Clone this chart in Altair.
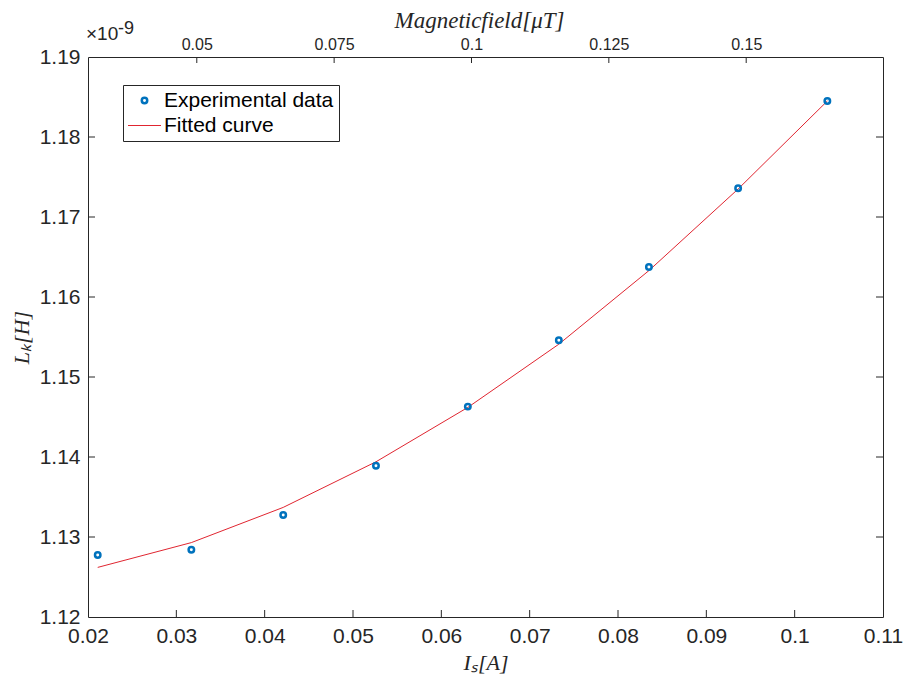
import altair as alt
import pandas as pd

# ---- data ----
current = [0.0211, 0.0317, 0.0421, 0.0526, 0.0630, 0.0733, 0.0835, 0.0936, 0.1037]
inductance = [1.12775, 1.1284, 1.13275, 1.1389, 1.1463, 1.1546, 1.16375, 1.1736, 1.1845]
fitted = [1.1262, 1.1293, 1.1337, 1.1394, 1.1462, 1.1541, 1.1633, 1.1735, 1.1845]
series = ["Experimental data", "Fitted curve"]
x_ticks = [0.02, 0.03, 0.04, 0.05, 0.06, 0.07, 0.08, 0.09, 0.10, 0.11]
x_inner_ticks = [0.03, 0.04, 0.05, 0.06, 0.07, 0.08, 0.09, 0.10]
y_ticks = [1.12, 1.13, 1.14, 1.15, 1.16, 1.17, 1.18, 1.19]
y_inner_ticks = [1.13, 1.14, 1.15, 1.16, 1.17, 1.18]
field_ticks = [0.05, 0.075, 0.1, 0.125, 0.15]
field_domain = [0.0302, 0.1749]
x_domain = [0.02, 0.11]
y_domain = [1.12, 1.19]

BLUE = "#0072BD"
RED = "#E02530"
AX = "#262626"
SANS = "Liberation Sans"
SERIF = "Liberation Serif"

W, H = 795, 560

exp_df = pd.DataFrame({"I": current, "L": inductance, "series": series[0]})
fit_df = pd.DataFrame({"I": current, "L": fitted, "series": series[1]})
xt_df = pd.DataFrame({"I": x_inner_ticks})
yt_df = pd.DataFrame({"L": y_inner_ticks})
bt_df = pd.DataFrame({"B": field_ticks})

x_axis = alt.Axis(values=x_ticks, format=".2~f", ticks=False, domain=False, grid=False,
                  labelFontSize=21, labelFont=SANS, labelColor=AX, labelPadding=8,
                  labelFlush=False, labelOverlap=False,
                  title="Iₛ[A]", titleFont=SERIF, titleFontStyle="italic",
                  titleFontWeight="normal", titleFontSize=22, titleColor=AX, titlePadding=6)
y_axis = alt.Axis(values=y_ticks, format=".2f", ticks=False, domain=False, grid=False,
                  labelFontSize=21, labelFont=SANS, labelColor=AX, labelPadding=8,
                  labelFlush=False, labelOverlap=False,
                  title="Lₖ[H]", titleFont=SERIF, titleFontStyle="italic",
                  titleFontWeight="normal", titleFontSize=22, titleColor=AX, titlePadding=6)
top_axis = alt.Axis(orient="top", values=field_ticks, format=".3~f", ticks=False, domain=False,
                    grid=False, labelFontSize=16, labelFont=SANS, labelColor=AX, labelPadding=5,
                    labelFlush=False, labelOverlap=False,
                    title="Magneticfield[μT]", titleFont=SERIF, titleFontStyle="italic",
                    titleFontWeight="normal", titleFontSize=23, titleColor=AX, titlePadding=4,
                    titleX=391)

xs = alt.Scale(domain=x_domain, nice=False, zero=False)
ys = alt.Scale(domain=y_domain, nice=False, zero=False)

x_enc = alt.X("I:Q", scale=xs, axis=x_axis)
y_enc = alt.Y("L:Q", scale=ys, axis=y_axis)

circle_path = "M-0.165,0A0.165,0.165,0,1,1,0.165,0A0.165,0.165,0,1,1,-0.165,0Z"
line_path = "M-1,0H1"

legend = alt.Legend(title=None, orient="none", legendX=35, legendY=28,
                    strokeColor=AX, fillColor="white", padding=5, cornerRadius=0,
                    labelFont=SANS, labelFontSize=21, labelColor="#000000", labelLimit=400,
                    symbolSize=1089, rowPadding=3, labelOffset=9, symbolOffset=6,
                    symbolStrokeWidth=alt.ExprRef("datum.value === 'Fitted curve' ? 1 : 2.5"))

color_enc = alt.Color("series:N", scale=alt.Scale(domain=series, range=[BLUE, RED]), legend=legend)
shape_enc = alt.Shape("series:N", scale=alt.Scale(domain=series, range=[circle_path, line_path]),
                      legend=legend)

line = alt.Chart(fit_df).mark_line(strokeWidth=1).encode(x=x_enc, y=y_enc, color=color_enc)
points = alt.Chart(exp_df).mark_point(filled=False, strokeWidth=2.5, size=1089, opacity=1).encode(
    x=x_enc, y=y_enc, color=color_enc, shape=shape_enc)

bottom_ticks = alt.Chart(xt_df).mark_rule(color=AX, strokeWidth=1).encode(
    x=x_enc, y=alt.value(H), y2=alt.value(H - 7))
left_ticks = alt.Chart(yt_df).mark_rule(color=AX, strokeWidth=1).encode(
    y=y_enc, x=alt.value(0), x2=alt.value(7))
right_ticks = alt.Chart(yt_df).mark_rule(color=AX, strokeWidth=1).encode(
    y=y_enc, x=alt.value(W), x2=alt.value(W - 7))

exp_a = alt.Chart(alt.Data(values=[{}])).mark_text(
    font=SANS, fontSize=19, color=AX, align="left", baseline="alphabetic").encode(
    x=alt.value(-2), y=alt.value(-17), text=alt.value("×10"))
exp_b = alt.Chart(alt.Data(values=[{}])).mark_text(
    font=SANS, fontSize=18, color=AX, align="left", baseline="alphabetic").encode(
    x=alt.value(30), y=alt.value(-23), text=alt.value("-9"))

bottom_group = alt.layer(line, points, bottom_ticks, left_ticks, right_ticks, exp_a, exp_b)

top_ticks = alt.Chart(bt_df).mark_rule(color=AX, strokeWidth=1).encode(
    x=alt.X("B:Q", scale=alt.Scale(domain=field_domain, nice=False, zero=False), axis=top_axis),
    y=alt.value(0), y2=alt.value(6))

chart = alt.layer(bottom_group, top_ticks).resolve_scale(x="independent").properties(
    width=W, height=H,
    autosize=alt.AutoSizeParams(type="none"),
    padding={"left": 88, "top": 57, "right": 25, "bottom": 63},
    background="white",
).configure_view(stroke=AX, strokeWidth=1)

chart.save("out.html", embed_options={"renderer": "svg", "actions": False})
